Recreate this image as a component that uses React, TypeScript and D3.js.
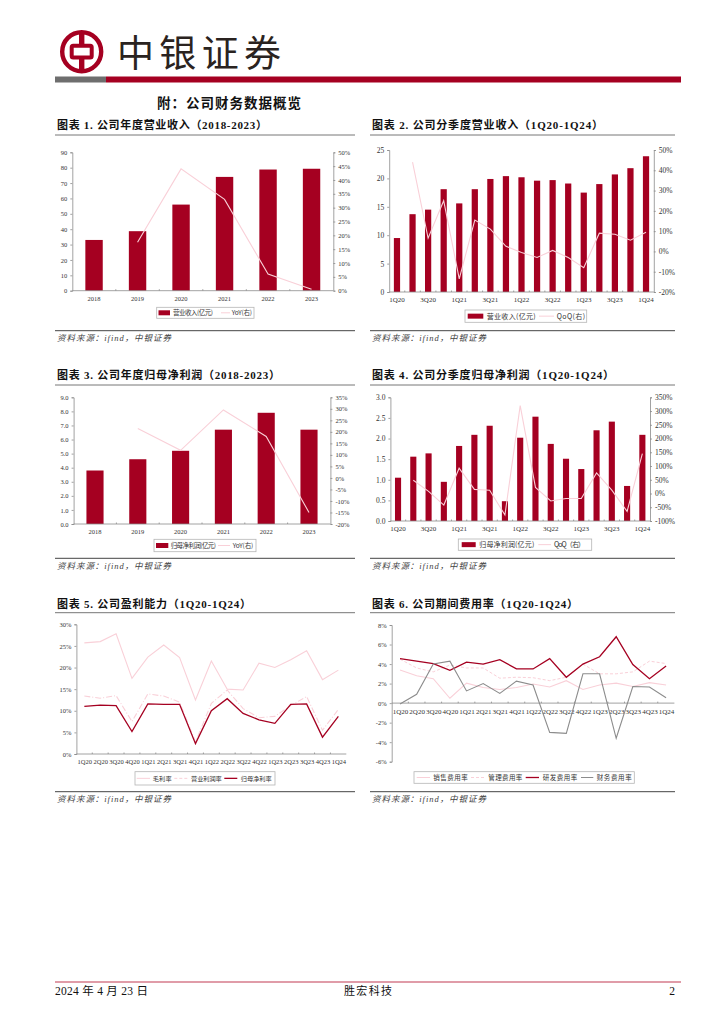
import { useEffect, useRef } from 'react';
import * as d3 from 'd3';

const RED = '#a50021';
const PINK = '#f9d0d8';
const GREY = '#8c8c8c';
const AXIS = '#8a8a8a';
const SERIF = '"Liberation Serif", "Noto Sans CJK SC", serif';
const CJK = '"Noto Sans CJK SC", "Liberation Serif", serif';

const years = ['2018', '2019', '2020', '2021', '2022', '2023'];
const quarters = [
  '1Q20', '2Q20', '3Q20', '4Q20', '1Q21', '2Q21', '3Q21', '4Q21', '1Q22',
  '2Q22', '3Q22', '4Q22', '1Q23', '2Q23', '3Q23', '4Q23', '1Q24',
];

const annualRevenue = [33, 38.7, 56, 74, 78.8, 79.3];
const annualRevenueYoy = [null, 17.5, 44, 33, 6, 0.5];
const quarterRevenue = [9.5, 13.7, 14.5, 18.1, 15.6, 18.1, 19.9, 20.4, 20.2, 19.6, 19.7, 19.1, 17.5, 19, 20.7, 21.8, 23.9];
const quarterRevenueQoq = [null, 44, 6.5, 25, -13.5, 15.5, 11, 2.5, -0.5, -3, 0.5, -3, -8, 9, 8.5, 5.5, 9.5];
const annualProfit = [3.8, 4.6, 5.2, 6.7, 7.9, 6.7];
const annualProfitYoy = [null, 21.5, 12, 29.5, 18, -15];
const quarterProfit = [1.05, 1.56, 1.64, 0.95, 1.82, 2.09, 2.31, 0.48, 2.02, 2.53, 1.87, 1.51, 1.26, 2.2, 2.41, 0.85, 2.09];
const quarterProfitQoq = [null, 48, 8, -42, 92, 15, 12, -78, 320, 22, -27, -18, -18, 75, 12, -65, 145];

const grossMargin = [25.7, 26, 27.8, 17.5, 22.4, 25.2, 22.3, 12.5, 21.5, 15, 14.8, 21, 20, 21.8, 23.9, 17.2, 19.4];
const operatingMargin = [13.4, 12.9, 13.5, 7.5, 13.9, 13.4, 12, 2.8, 11.7, 14.8, 10.5, 8.4, 8.7, 11.2, 13.3, 5.5, 10.3];
const netMargin = [11, 11.3, 11.2, 5.2, 11.6, 11.5, 11.5, 2.4, 10, 12.8, 9.4, 7.9, 7.1, 11.5, 11.6, 3.9, 8.7];

const salesRate = [3.4, 2.8, 2.5, 0.5, 2.05, 1.6, 1.4, 1.6, 1.95, 1.65, 2.3, 1.4, 1.85, 2.05, 1.7, 2.1, 1.85];
const adminRate = [4.5, 3.6, 3.2, 3.9, 3.6, 3.6, 2.55, 2.65, 2.6, 2.3, 2.65, 4, 3, 3, 3.2, 4.3, 4.05];
const rdRate = [4.55, 4.3, 4.05, 3.35, 4.2, 4, 4.45, 3.5, 3.5, 4.55, 2.65, 4, 4.75, 6.8, 3.95, 2.5, 3.8];
const financeRate = [-0.1, 0.9, 4, 4.3, 1.25, 2, 1, 2.25, 1.85, -3, -3.1, 3, 3, -3.6, 1.7, 1.65, 0.55];

type Sel = d3.Selection<any, unknown, null, undefined>;
type Box = { left: number; right: number; top: number; bottom: number };
type LegendItem = { kind: 'bar' | 'line' | 'dash' | 'dashdot'; color: string; x0: number; x1: number; label: string; t0: number; t1: number };
type Fonts = { left: number; right: number; x: number };

function label(g: Sel, x: number, y: number, s: string, size: number, opts: any = {}) {
  return g
    .append('text')
    .attr('x', x)
    .attr('y', y)
    .attr('font-size', size)
    .attr('font-family', opts.family || SERIF)
    .attr('font-weight', opts.weight || 'normal')
    .attr('font-style', opts.style || 'normal')
    .attr('text-anchor', opts.anchor || 'start')
    .attr('fill', opts.fill || '#222')
    .text(s);
}

function styleAxis(a: Sel, size: number) {
  a.select('.domain').attr('stroke', AXIS).attr('stroke-width', 0.8);
  a.selectAll('line').attr('stroke', AXIS).attr('stroke-width', 0.8);
  a.selectAll('text').attr('font-family', SERIF).attr('font-size', size).attr('fill', '#333');
}

function drawLegend(g: Sel, x0: number, x1: number, y0: number, y1: number, items: LegendItem[], size: number) {
  g.append('rect')
    .attr('x', x0)
    .attr('y', y0)
    .attr('width', x1 - x0)
    .attr('height', y1 - y0)
    .attr('fill', 'none')
    .attr('stroke', '#b5b5b5')
    .attr('stroke-width', 0.8);
  const mid = (y0 + y1) / 2;
  items.forEach((it) => {
    if (it.kind === 'bar') {
      g.append('rect').attr('x', it.x0).attr('y', mid - 2.5).attr('width', it.x1 - it.x0).attr('height', 5).attr('fill', it.color);
    } else {
      g.append('line')
        .attr('x1', it.x0)
        .attr('x2', it.x1)
        .attr('y1', mid)
        .attr('y2', mid)
        .attr('stroke', it.color)
        .attr('stroke-width', it.color === RED ? 1.3 : 1)
        .attr('stroke-dasharray', it.kind === 'dash' ? '3 2' : it.kind === 'dashdot' ? '5 2 1 2' : null);
    }
    label(g, it.t0, mid + size * 0.36, it.label, size, { family: CJK, fill: '#333' })
      .attr('textLength', it.t1 - it.t0)
      .attr('lengthAdjust', 'spacing');
  });
}

function drawCombo(
  g: Sel,
  box: Box,
  cats: string[],
  bars: number[],
  line: (number | null)[],
  leftDomain: [number, number],
  leftTicks: number[],
  leftFormat: (d: number) => string,
  rightDomain: [number, number],
  rightTicks: number[],
  labelEvery: number,
  fonts: Fonts,
) {
  const x = d3.scaleBand().domain(cats).range([box.left, box.right]).paddingInner(0.6).paddingOuter(0.3);
  const yL = d3.scaleLinear().domain(leftDomain).range([box.bottom, box.top]);
  const yR = d3.scaleLinear().domain(rightDomain).range([box.bottom, box.top]);

  g.selectAll(null)
    .data(bars)
    .enter()
    .append('rect')
    .attr('x', (_, i) => x(cats[i]) as number)
    .attr('y', (d) => yL(d as number))
    .attr('width', x.bandwidth())
    .attr('height', (d) => box.bottom - yL(d as number))
    .attr('fill', RED);

  const path = d3
    .line<number | null>()
    .defined((d) => d !== null)
    .x((_, i) => (x(cats[i]) as number) + x.bandwidth() / 2)
    .y((d) => yR(d as number));
  g.append('path').attr('d', path(line)).attr('fill', 'none').attr('stroke', PINK).attr('stroke-width', 1.1);

  const ax = g
    .append('g')
    .attr('transform', `translate(0,${box.bottom})`)
    .call(d3.axisBottom(x).tickSize(0).tickPadding(5.5).tickFormat((d, i) => (i % labelEvery === 0 ? (d as string) : '')));
  styleAxis(ax, fonts.x);
  ax.select('.domain').attr('d', `M${box.left},0H${box.right}`);
  const step = x.step();
  g.selectAll(null)
    .data(d3.range(1, cats.length))
    .enter()
    .append('line')
    .attr('x1', (d) => box.left + (d as number) * step)
    .attr('x2', (d) => box.left + (d as number) * step)
    .attr('y1', box.bottom)
    .attr('y2', box.bottom - 1.5)
    .attr('stroke', AXIS)
    .attr('stroke-width', 0.8);

  const al = g
    .append('g')
    .attr('transform', `translate(${box.left},0)`)
    .call(d3.axisLeft(yL).tickValues(leftTicks).tickSize(2).tickPadding(3).tickFormat((d) => leftFormat(d as number)));
  styleAxis(al, fonts.left);

  const ar = g
    .append('g')
    .attr('transform', `translate(${box.right},0)`)
    .call(d3.axisRight(yR).tickValues(rightTicks).tickSize(2).tickPadding(3).tickFormat((d) => `${d}%`));
  styleAxis(ar, fonts.right);
}

function drawLines(
  g: Sel,
  box: Box,
  series: { values: number[]; color: string; width: number; dash: string | null }[],
  domain: [number, number],
  ticks: number[],
  xFont: number,
) {
  const x = d3.scalePoint().domain(quarters).range([box.left, box.right]).padding(0.5);
  const y = d3.scaleLinear().domain(domain).range([box.bottom, box.top]);
  const zero = y(Math.max(0, domain[0]));

  const ax = g
    .append('g')
    .attr('transform', `translate(0,${zero})`)
    .call(d3.axisBottom(x).tickSize(0).tickPadding(5.5));
  styleAxis(ax, xFont);
  ax.select('.domain').attr('d', `M${box.left},0H${box.right}`);

  g.selectAll(null)
    .data(d3.range(1, quarters.length))
    .enter()
    .append('line')
    .attr('x1', (d) => box.left + (d as number) * x.step())
    .attr('x2', (d) => box.left + (d as number) * x.step())
    .attr('y1', zero)
    .attr('y2', zero - 1.5)
    .attr('stroke', AXIS)
    .attr('stroke-width', 0.8);

  const al = g
    .append('g')
    .attr('transform', `translate(${box.left},0)`)
    .call(d3.axisLeft(y).tickValues(ticks).tickSize(2).tickPadding(3).tickFormat((d) => `${d}%`));
  styleAxis(al, 6.5);

  const path = d3
    .line<number>()
    .x((_, i) => x(quarters[i]) as number)
    .y((d) => y(d));
  series.forEach((s) => {
    g.append('path')
      .attr('d', path(s.values))
      .attr('fill', 'none')
      .attr('stroke', s.color)
      .attr('stroke-width', s.width)
      .attr('stroke-dasharray', s.dash);
  });
}

function panel(g: Sel, x0: number, x1: number, titleY: number, ruleTop: number, ruleBottom: number, title: string, titleEnd: number) {
  label(g, x0 + 2, titleY, title, 11, { weight: 'bold', fill: '#111' })
    .attr('textLength', titleEnd - x0 - 2)
    .attr('lengthAdjust', 'spacing');
  g.append('line').attr('x1', x0).attr('x2', x1).attr('y1', ruleTop).attr('y2', ruleTop).attr('stroke', '#777').attr('stroke-width', 1);
  g.append('line').attr('x1', x0).attr('x2', x1).attr('y1', ruleBottom).attr('y2', ruleBottom).attr('stroke', '#444').attr('stroke-width', 1);
  label(g, x0 + 2, ruleBottom + 10.5, '资料来源\uFF1Aifind\uFF0C中银证券', 8.5, { style: 'italic', fill: '#444' })
    .attr('textLength', 114)
    .attr('lengthAdjust', 'spacing');
}

export default function App() {
  const ref = useRef<SVGSVGElement>(null);

  useEffect(() => {
    if (!ref.current) return;
    const svg = d3.select(ref.current) as unknown as Sel;
    svg.selectAll('*').remove();

    // page header
    svg.append('circle').attr('cx', 81.7).attr('cy', 51.7).attr('r', 19.5).attr('fill', 'none').attr('stroke', RED).attr('stroke-width', 4.4);
    svg.append('rect').attr('x', 71.7).attr('y', 45.8).attr('width', 20).attr('height', 11.8).attr('rx', 1.5).attr('fill', 'none').attr('stroke', RED).attr('stroke-width', 4);
    svg.append('rect').attr('x', 79).attr('y', 32).attr('width', 5.4).attr('height', 12).attr('fill', RED);
    svg.append('rect').attr('x', 79).attr('y', 59).attr('width', 5.4).attr('height', 12).attr('fill', RED);
    label(svg, 117, 66.5, '中银证券', 37, { family: CJK, fill: '#2a2320' }).attr('textLength', 164).attr('lengthAdjust', 'spacing');
    svg.append('rect').attr('x', 55).attr('y', 76.5).attr('width', 51).attr('height', 6).attr('fill', '#6e6e6e');
    svg.append('rect').attr('x', 106).attr('y', 76.5).attr('width', 575).attr('height', 6).attr('fill', RED);
    label(svg, 157, 107.5, '附\uFF1A公司财务数据概览', 13.5, { weight: 'bold', family: CJK, fill: '#111' }).attr('textLength', 144).attr('lengthAdjust', 'spacing');

    // panels
    panel(svg, 55, 355, 129, 135, 330.7, '图表 1. 公司年度营业收入\uFF082018-2023\uFF09', 267);
    panel(svg, 370, 675, 129, 135, 330.7, '图表 2. 公司分季度营业收入\uFF081Q20-1Q24\uFF09', 603);
    panel(svg, 55, 355, 379, 385, 558.3, '图表 3. 公司年度归母净利润\uFF082018-2023\uFF09', 280);
    panel(svg, 370, 675, 379, 385, 558.3, '图表 4. 公司分季度归母净利润\uFF081Q20-1Q24\uFF09', 614);
    panel(svg, 55, 355, 607.5, 612.7, 791.7, '图表 5. 公司盈利能力\uFF081Q20-1Q24\uFF09', 251);
    panel(svg, 370, 675, 607.5, 612.7, 791.7, '图表 6. 公司期间费用率\uFF081Q20-1Q24\uFF09', 578);

    drawCombo(svg, { left: 72.3, right: 333.3, top: 152.3, bottom: 290.7 }, years, annualRevenue, annualRevenueYoy,
      [0, 90], d3.range(0, 91, 10), (d) => `${d}`, [0, 50], d3.range(0, 51, 5), 1, { left: 6.5, right: 6.5, x: 6.5 });
    drawLegend(svg, 156.7, 254, 307.3, 318.3, [
      { kind: 'bar', color: RED, x0: 158.5, x1: 170, label: '营业收入(亿元)', t0: 173, t1: 213 },
      { kind: 'line', color: PINK, x0: 221, x1: 230, label: 'YoY(右)', t0: 231.7, t1: 252 },
    ], 6.5);

    drawCombo(svg, { left: 389.2, right: 653.8, top: 150, bottom: 292 }, quarters, quarterRevenue, quarterRevenueQoq,
      [0, 25], d3.range(0, 26, 5), (d) => `${d}`, [-20, 50], d3.range(-20, 51, 10), 2, { left: 7.5, right: 7.5, x: 7 });
    drawLegend(svg, 465, 586.7, 310, 322.3, [
      { kind: 'bar', color: RED, x0: 467.7, x1: 483.3, label: '营业收入(亿元)', t0: 486.7, t1: 535.7 },
      { kind: 'line', color: PINK, x0: 539, x1: 554, label: 'QoQ(右)', t0: 556.7, t1: 585 },
    ], 7);

    drawCombo(svg, { left: 73.6, right: 330.4, top: 397.3, bottom: 524 }, years, annualProfit, annualProfitYoy,
      [0, 9], d3.range(0, 10), (d) => d.toFixed(1), [-20, 35], d3.range(-20, 36, 5), 1, { left: 6.5, right: 6.5, x: 6.5 });
    drawLegend(svg, 154, 256, 539.3, 551.7, [
      { kind: 'bar', color: RED, x0: 156, x1: 168.3, label: '归母净利润(亿元)', t0: 170.7, t1: 216 },
      { kind: 'line', color: PINK, x0: 218, x1: 230, label: 'YoY(右)', t0: 232.7, t1: 253.3 },
    ], 6.5);

    drawCombo(svg, { left: 390.4, right: 650, top: 397.3, bottom: 521 }, quarters, quarterProfit, quarterProfitQoq,
      [0, 3], d3.range(0, 3.01, 0.5), (d) => d.toFixed(1), [-100, 350], d3.range(-100, 351, 50), 2, { left: 7.5, right: 7.5, x: 7 });
    drawLegend(svg, 458.3, 591.7, 539, 550.3, [
      { kind: 'bar', color: RED, x0: 461.7, x1: 475.7, label: '归母净利润(亿元)', t0: 479.3, t1: 534.3 },
      { kind: 'line', color: PINK, x0: 538.3, x1: 551, label: 'QoQ\uFF08右\uFF09', t0: 554, t1: 585 },
    ], 7);

    drawLines(svg, { left: 76.4, right: 346.3, top: 624.3, bottom: 754 }, [
      { values: grossMargin, color: PINK, width: 1.1, dash: null },
      { values: operatingMargin, color: PINK, width: 1.1, dash: '6 2 1 2' },
      { values: netMargin, color: RED, width: 1.3, dash: null },
    ], [0, 30], d3.range(0, 31, 5), 6.5);
    drawLegend(svg, 135, 275, 771.7, 785, [
      { kind: 'line', color: PINK, x0: 136.7, x1: 150, label: '毛利率', t0: 152.7, t1: 171.7 },
      { kind: 'dash', color: PINK, x0: 174.3, x1: 188, label: '营业利润率', t0: 191, t1: 221.7 },
      { kind: 'line', color: RED, x0: 224.3, x1: 237.3, label: '归母净利率', t0: 240.7, t1: 271.7 },
    ], 6.2);

    drawLines(svg, { left: 391.7, right: 674.4, top: 625, bottom: 761.7 }, [
      { values: salesRate, color: PINK, width: 1.1, dash: null },
      { values: adminRate, color: PINK, width: 1, dash: '3 2' },
      { values: rdRate, color: RED, width: 1.3, dash: null },
      { values: financeRate, color: GREY, width: 1.1, dash: null },
    ], [-6, 8], d3.range(-6, 9, 2), 7);
    drawLegend(svg, 414, 634.3, 771.7, 783.3, [
      { kind: 'line', color: PINK, x0: 416.7, x1: 430, label: '销售费用率', t0: 433.3, t1: 467.7 },
      { kind: 'dash', color: PINK, x0: 471, x1: 484.3, label: '管理费用率', t0: 488.3, t1: 522.3 },
      { kind: 'line', color: RED, x0: 525.7, x1: 539, label: '研发费用率', t0: 542.7, t1: 577.3 },
      { kind: 'line', color: GREY, x0: 581, x1: 593.3, label: '财务费用率', t0: 596.7, t1: 631.7 },
    ], 6.5);

    // page footer
    svg.append('line').attr('x1', 55).attr('x2', 681).attr('y1', 982).attr('y2', 982).attr('stroke', '#c23a52').attr('stroke-width', 1.2);
    label(svg, 55, 995, '2024 年 4 月 23 日', 11.5, { fill: '#111' }).attr('textLength', 93).attr('lengthAdjust', 'spacing');
    label(svg, 344, 995, '胜宏科技', 11, { fill: '#111' }).attr('textLength', 48).attr('lengthAdjust', 'spacing');
    label(svg, 675, 995, '2', 11.5, { anchor: 'end', fill: '#111' });
  }, []);

  return (
    <svg
      ref={ref}
      width={724}
      height={1024}
      viewBox="0 0 724 1024"
      style={{ position: 'absolute', left: 0, top: 0, background: '#fff' }}
    />
  );
}
